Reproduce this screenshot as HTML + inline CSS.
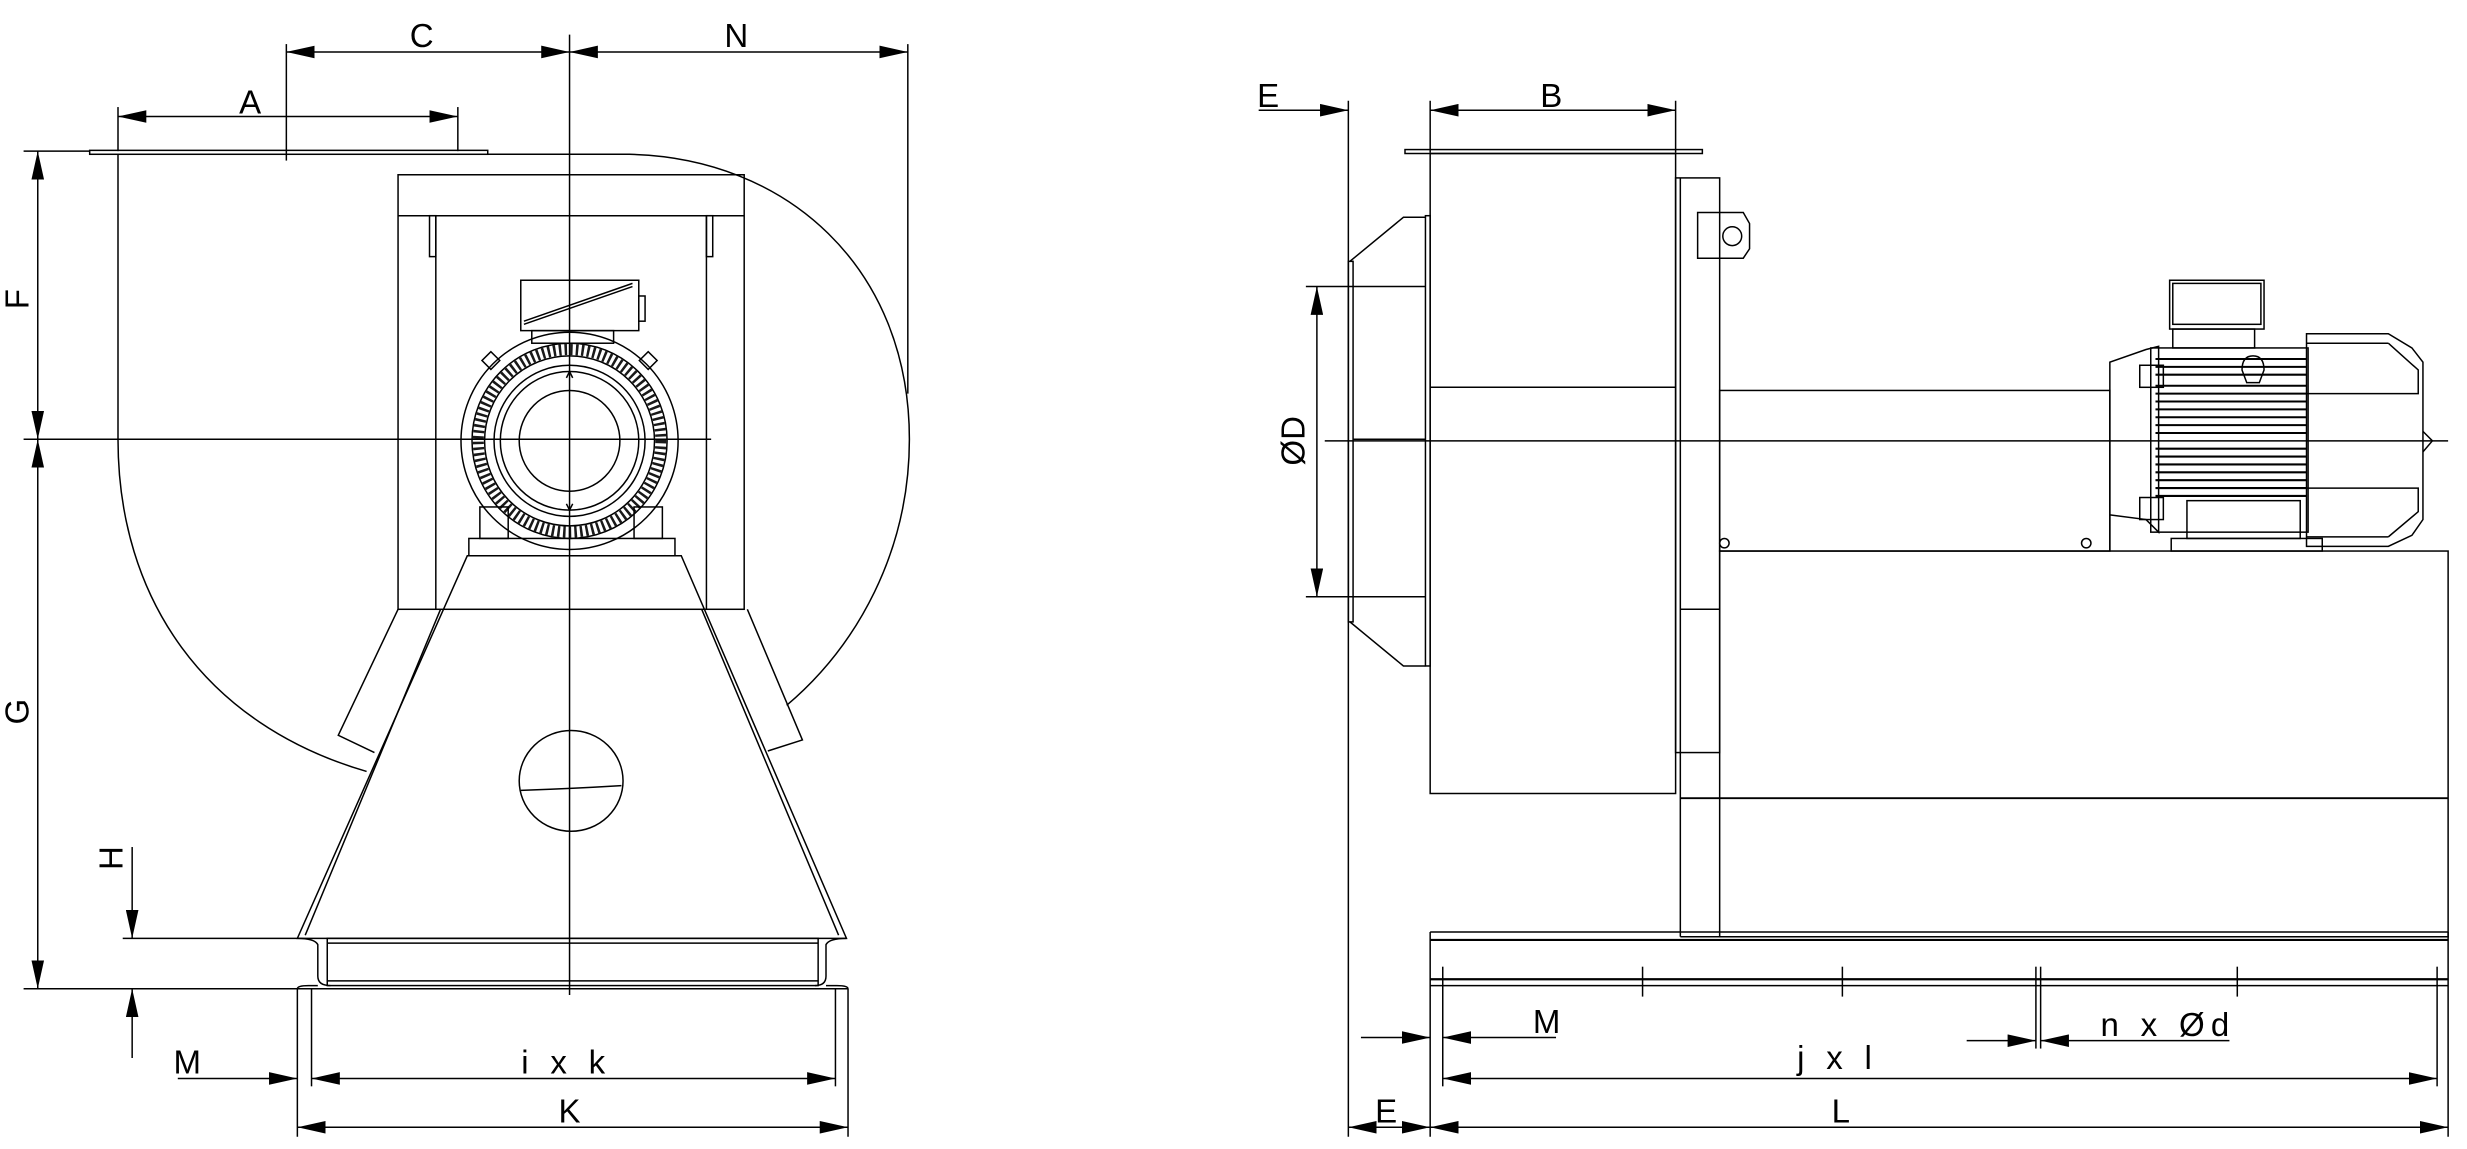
<!DOCTYPE html>
<html><head><meta charset="utf-8"><style>
html,body{margin:0;padding:0;background:#fff}
svg{display:block}
text{font-family:"Liberation Sans Narrow","Liberation Sans",sans-serif;font-size:21px;fill:#000}
</style></head><body>
<svg width="2467" height="1149" viewBox="0 0 1568 729.8" preserveAspectRatio="none" xmlns="http://www.w3.org/2000/svg">
<defs>
<marker id="a" viewBox="0 0 18 8" refX="18" refY="4" markerWidth="18" markerHeight="8" markerUnits="userSpaceOnUse" orient="auto-start-reverse"><path d="M0,0 L18,4 L0,8 Z" fill="#000"/></marker>
</defs>
<g fill="none" stroke="#000" stroke-width="0.95">
<!-- ===== LEFT VIEW ===== -->
<line x1="362" y1="22" x2="362" y2="632"/>
<line x1="15" y1="279" x2="452" y2="279"/>
<line x1="182" y1="28" x2="182" y2="102"/>
<line x1="577" y1="28" x2="577" y2="250"/>
<line x1="182" y1="33" x2="362" y2="33" marker-start="url(#a)" marker-end="url(#a)"/>
<line x1="362" y1="33" x2="577" y2="33" marker-start="url(#a)" marker-end="url(#a)"/>
<line x1="75" y1="68" x2="75" y2="96"/>
<line x1="291" y1="68" x2="291" y2="96"/>
<line x1="75" y1="74" x2="291" y2="74" marker-start="url(#a)" marker-end="url(#a)"/>
<rect x="57" y="95.5" width="253" height="2.5"/>
<path d="M310,98 L400,98 C500,100 578,170 578,279 C578,350 545,410 500,448"/>
<path d="M75,98 L75,279 C75,380 130,460 233,490"/>
<rect x="253" y="111" width="220" height="276"/>
<line x1="253" y1="137" x2="473" y2="137"/>
<line x1="277" y1="137" x2="277" y2="387"/>
<line x1="449" y1="137" x2="449" y2="387"/>
<rect x="273" y="137" width="4" height="26"/>
<rect x="449" y="137" width="4" height="26"/>
<polyline points="253,387 215,467 238,478"/>
<polyline points="475,387 510,470 488,477"/>
<polygon points="297,353 433,353 538,596 189,596"/>
<line x1="280" y1="387" x2="194" y2="594"/>
<line x1="446" y1="387" x2="533" y2="594"/>
<rect x="298" y="342" width="131" height="11"/>
<rect x="305" y="322" width="18" height="20"/>
<rect x="403" y="322" width="18" height="20"/>
<rect x="331" y="178" width="75" height="32"/>
<line x1="333" y1="206" x2="402" y2="182"/>
<line x1="333" y1="204" x2="402" y2="180"/>
<rect x="406" y="188" width="4" height="16"/>
<rect x="338" y="210" width="52" height="8"/>
<circle cx="362" cy="280" r="69"/>
<circle cx="362" cy="280" r="58" stroke-dasharray="1.6 2" stroke-width="7" stroke="#000" opacity="0.9"/>
<circle cx="362" cy="280" r="62"/>
<circle cx="362" cy="280" r="54"/>
<circle cx="362" cy="280" r="48"/>
<circle cx="362" cy="280" r="44"/>
<circle cx="362" cy="280" r="32"/>
<path d="M360,240 L362,236 L364,240 M360,320 L362,324 L364,320"/>
<rect x="308" y="225" width="8" height="8" transform="rotate(45 312 229)"/>
<rect x="408" y="225" width="8" height="8" transform="rotate(45 412 229)"/>
<ellipse cx="363" cy="496" rx="33" ry="32"/>
<path d="M331,502 Q362,501 395,499"/>
<rect x="208" y="596" width="312" height="30"/>
<line x1="208" y1="599" x2="520" y2="599"/>
<line x1="208" y1="623" x2="520" y2="623"/>
<path d="M189,596 Q200,596 202,600 L202,620 Q202,626 210,626"/>
<path d="M538,596 Q527,596 525,600 L525,620 Q525,626 518,626"/>
<line x1="189" y1="628" x2="539" y2="628"/>
<path d="M189,628 Q189,626 196,626 L202,626 M539,628 Q539,626 532,626 L525,626"/>
<line x1="15" y1="96" x2="57" y2="96"/>
<line x1="15" y1="628" x2="189" y2="628"/>
<line x1="78" y1="596" x2="189" y2="596"/>
<line x1="24" y1="96" x2="24" y2="279" marker-start="url(#a)" marker-end="url(#a)"/>
<line x1="24" y1="279" x2="24" y2="628" marker-start="url(#a)" marker-end="url(#a)"/>
<line x1="84" y1="538" x2="84" y2="596" marker-end="url(#a)"/>
<line x1="84" y1="672" x2="84" y2="628" marker-end="url(#a)"/>
<line x1="189" y1="628" x2="189" y2="722"/>
<line x1="539" y1="628" x2="539" y2="722"/>
<line x1="198" y1="628" x2="198" y2="690"/>
<line x1="531" y1="628" x2="531" y2="690"/>
<line x1="113" y1="685" x2="189" y2="685" marker-end="url(#a)"/>
<line x1="198" y1="685" x2="531" y2="685" marker-start="url(#a)" marker-end="url(#a)"/>
<line x1="189" y1="716" x2="539" y2="716" marker-start="url(#a)" marker-end="url(#a)"/>

<!-- ===== RIGHT VIEW ===== -->
<line x1="857" y1="64" x2="857" y2="722"/>
<line x1="800" y1="70" x2="857" y2="70" marker-end="url(#a)"/>
<line x1="909" y1="64" x2="909" y2="97"/>
<line x1="1065" y1="64" x2="1065" y2="97"/>
<line x1="909" y1="70" x2="1065" y2="70" marker-start="url(#a)" marker-end="url(#a)"/>
<rect x="893" y="95" width="189" height="2.5"/>
<rect x="909" y="97.5" width="156" height="406.5"/>
<line x1="909" y1="246" x2="1065" y2="246"/>
<rect x="906" y="137" width="3" height="286"/>
<polyline points="906,138 892,138 858,166"/>
<polyline points="906,423 892,423 858,395"/>
<rect x="857" y="166" width="3" height="229"/>
<line x1="830" y1="182" x2="906" y2="182"/>
<line x1="830" y1="379" x2="906" y2="379"/>
<line x1="860" y1="279" x2="906" y2="279"/>
<line x1="837" y1="182" x2="837" y2="379" marker-start="url(#a)" marker-end="url(#a)"/>
<line x1="842" y1="280" x2="1556" y2="280"/>
<rect x="1065" y="113" width="28" height="365"/>
<line x1="1068" y1="113" x2="1068" y2="478"/>
<line x1="1068" y1="387" x2="1093" y2="387"/>
<path d="M1079,135 L1108,135 L1112,142 L1112,158 L1108,164 L1079,164 Z"/>
<circle cx="1101" cy="150" r="6"/>
<rect x="1093" y="248" width="248" height="102"/>
<circle cx="1096" cy="345" r="3"/>
<circle cx="1326" cy="345" r="3"/>
<path d="M1341,350 L1341,230 L1364,222 L1372,220 L1372,338 L1364,330 L1341,327"/>
<rect x="1367" y="221" width="100" height="117"/>
<g stroke-width="1.3">
<line x1="1370" y1="228" x2="1466" y2="228"/><line x1="1370" y1="233" x2="1466" y2="233"/><line x1="1370" y1="238" x2="1466" y2="238"/>
<line x1="1370" y1="245" x2="1466" y2="245"/><line x1="1370" y1="250" x2="1466" y2="250"/><line x1="1370" y1="255" x2="1466" y2="255"/>
<line x1="1370" y1="260" x2="1466" y2="260"/><line x1="1370" y1="265" x2="1466" y2="265"/><line x1="1370" y1="270" x2="1466" y2="270"/>
<line x1="1370" y1="275" x2="1466" y2="275"/><line x1="1370" y1="285" x2="1466" y2="285"/><line x1="1370" y1="290" x2="1466" y2="290"/>
<line x1="1370" y1="295" x2="1466" y2="295"/><line x1="1370" y1="300" x2="1466" y2="300"/><line x1="1370" y1="305" x2="1466" y2="305"/>
<line x1="1370" y1="310" x2="1466" y2="310"/><line x1="1370" y1="315" x2="1466" y2="315"/>
</g>
<path d="M1425,235 Q1425,226 1432,226 Q1439,226 1439,235 L1436,243 L1428,243 Z"/>
<rect x="1360" y="232" width="15" height="14"/>
<rect x="1360" y="316" width="15" height="14"/>
<rect x="1379" y="178" width="60" height="31"/>
<rect x="1381" y="180" width="56" height="26"/>
<rect x="1381" y="209" width="52" height="12"/>
<path d="M1466,212 L1518,212 L1533,221 L1540,230 L1540,330 L1533,340 L1518,347 L1466,347 Z"/>
<line x1="1466" y1="218" x2="1518" y2="218"/>
<line x1="1466" y1="341" x2="1518" y2="341"/>
<path d="M1518,218 L1537,235 L1537,250 L1466,250 M1466,310 L1537,310 L1537,325 L1518,341"/>
<path d="M1540,274 L1546,280 L1540,287"/>
<rect x="1390" y="318" width="72" height="24"/>
<rect x="1380" y="342" width="96" height="8"/>
<rect x="1093" y="350" width="463" height="245"/>
<line x1="1068" y1="478" x2="1068" y2="595"/>
<line x1="1068" y1="507" x2="1556" y2="507" stroke-width="1.2"/>
<line x1="1068" y1="595" x2="1556" y2="595"/>
<line x1="909" y1="592" x2="1556" y2="592"/>
<line x1="909" y1="597" x2="1556" y2="597" stroke-width="1.4"/>
<line x1="909" y1="592" x2="909" y2="722"/>
<line x1="909" y1="622" x2="1556" y2="622" stroke-width="1.4"/>
<line x1="909" y1="626" x2="1556" y2="626"/>
<line x1="1556" y1="592" x2="1556" y2="722"/>
<line x1="917" y1="614" x2="917" y2="690"/>
<line x1="1044" y1="614" x2="1044" y2="633"/>
<line x1="1171" y1="614" x2="1171" y2="633"/>
<line x1="1294" y1="614" x2="1294" y2="666"/>
<line x1="1297" y1="614" x2="1297" y2="666"/>
<line x1="1422" y1="614" x2="1422" y2="633"/>
<line x1="1549" y1="614" x2="1549" y2="690"/>
<line x1="865" y1="659" x2="909" y2="659" marker-end="url(#a)"/>
<line x1="989" y1="659" x2="917" y2="659" marker-end="url(#a)"/>
<line x1="1250" y1="661" x2="1294" y2="661" marker-end="url(#a)"/>
<line x1="1417" y1="661" x2="1297" y2="661" marker-end="url(#a)"/>
<line x1="917" y1="685" x2="1549" y2="685" marker-start="url(#a)" marker-end="url(#a)"/>
<line x1="857" y1="716" x2="909" y2="716" marker-start="url(#a)" marker-end="url(#a)"/>
<line x1="909" y1="716" x2="1556" y2="716" marker-start="url(#a)" marker-end="url(#a)"/>
</g>
<text x="268" y="30" text-anchor="middle">C</text>
<text x="468" y="30" text-anchor="middle">N</text>
<text x="159" y="72" text-anchor="middle">A</text>
<text x="0" y="0" text-anchor="middle" transform="translate(18,190) rotate(-90)">F</text>
<text x="0" y="0" text-anchor="middle" transform="translate(18,452) rotate(-90)">G</text>
<text x="0" y="0" text-anchor="middle" transform="translate(78,545) rotate(-90)">H</text>
<text x="119" y="682" text-anchor="middle">M</text>
<text x="360" y="682" text-anchor="middle" letter-spacing="4">i x k</text>
<text x="362" y="713" text-anchor="middle">K</text>
<text x="806" y="68" text-anchor="middle">E</text>
<text x="986" y="68" text-anchor="middle">B</text>
<text x="0" y="0" text-anchor="middle" transform="translate(829,280) rotate(-90)" font-size="24">ØD</text>
<text x="983" y="656" text-anchor="middle">M</text>
<text x="1378" y="658" text-anchor="middle" letter-spacing="4">n x Ød</text>
<text x="1168" y="679" text-anchor="middle" letter-spacing="4">j x l</text>
<text x="881" y="713" text-anchor="middle">E</text>
<text x="1170" y="713" text-anchor="middle">L</text>
</svg>
</body></html>
